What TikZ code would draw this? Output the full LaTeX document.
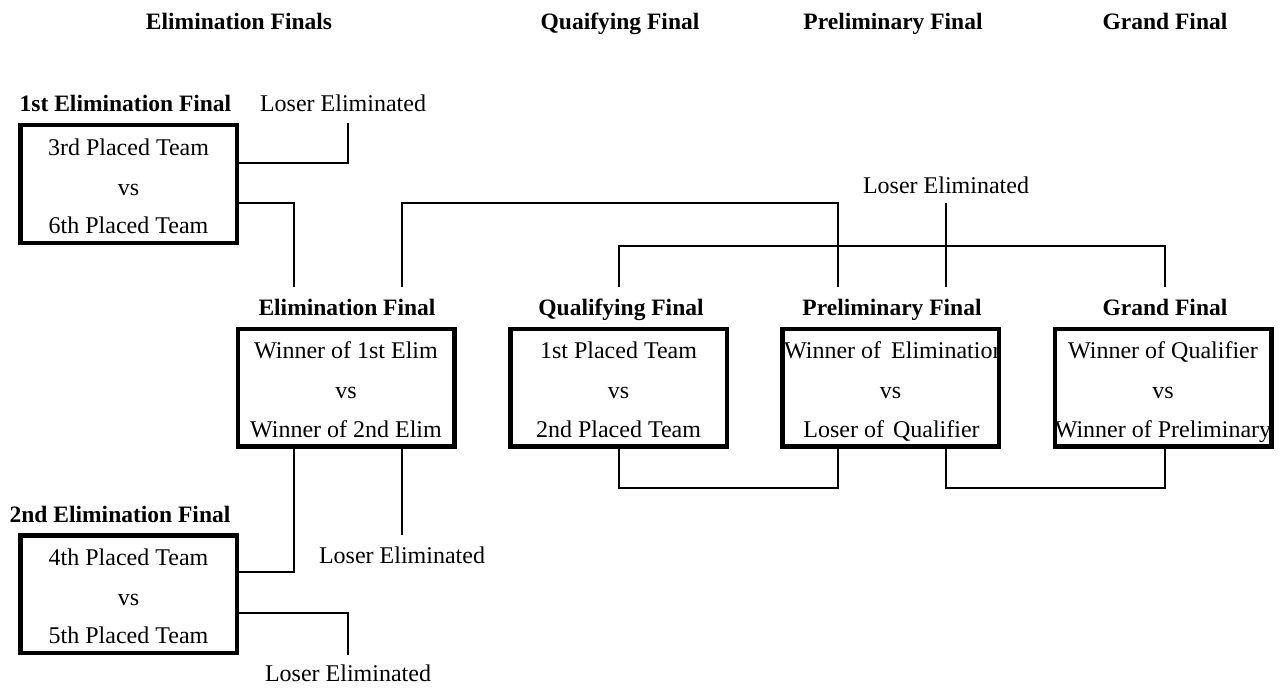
\documentclass[tikz,border=0pt]{standalone}
\usepackage{fontspec}
\setmainfont{Liberation Serif}
\begin{document}
\begin{tikzpicture}[x=1pt,y=-1pt,
  box/.style={draw, line width=4.5pt, minimum width=216.5pt, minimum height=117.5pt, inner sep=0pt, outer sep=0pt},
  conn/.style={line width=2.6pt},
  txt/.style={anchor=base, inner sep=0pt, font=\fontsize{24}{28}\selectfont},
  ttl/.style={anchor=base, inner sep=0pt, font=\fontsize{23.5}{28}\selectfont\bfseries},
]
\useasboundingbox (0,0) rectangle (1282,690);

% headers
\node[ttl] (h1) at (239,30) {Elimination Finals};
\node[ttl] (h2) at (620,30) {Quaifying Final};
\node[ttl] (h3) at (893,30) {Preliminary Final};
\node[ttl] (h4) at (1165,30) {Grand Final};

% boxes
\node[box] (b1) at (128.5,184) {};
\node[box] (b2) at (128.5,594) {};
\node[box] (be) at (346,387.5) {};
\node[box] (bq) at (618.5,387.5) {};
\node[box] (bp) at (890.5,387.5) {};
\node[box] (bg) at (1163,387.5) {};

% titles
\node[ttl] (t1) at (125.5,112) {1st Elimination Final};
\node[ttl] (t2) at (120,522) {2nd Elimination Final};
\node[ttl] (te) at (347,315) {Elimination Final};
\node[ttl] (tq) at (621,315) {Qualifying Final};
\node[ttl] (tp) at (892,315) {Preliminary Final};
\node[ttl] (tg) at (1165,315) {Grand Final};

% box texts
\node[txt] (b1a) at (128.5,155) {3rd Placed Team};
\node[txt] (b1b) at (128.5,195) {vs};
\node[txt] (b1c) at (128.5,233) {6th Placed Team};
\node[txt] (b2a) at (128.5,565) {4th Placed Team};
\node[txt] (b2b) at (128.5,605) {vs};
\node[txt] (b2c) at (128.5,643) {5th Placed Team};
\node[txt] (bea) at (346,358) {Winner of 1st Elim};
\node[txt] (beb) at (346,398) {vs};
\node[txt] (bec) at (346,437) {Winner of 2nd Elim};
\node[txt] (bqa) at (618.5,358) {1st Placed Team};
\node[txt] (bqb) at (618.5,398) {vs};
\node[txt] (bqc) at (618.5,437) {2nd Placed Team};
\begin{scope}
  \clip (bp.north west) rectangle (bp.south east);
  \node[txt, anchor=base west] (bpa) at (784,358) {Winner of\hspace{4pt} Elimination};
\end{scope}
\node[txt] (bpb) at (890.5,398) {vs};
\node[txt] (bpc) at (891.5,437) {Loser of\hspace{3pt} Qualifier};
\node[txt] (bga) at (1163,358) {Winner of Qualifier};
\node[txt] (bgb) at (1163,398) {vs};
\node[txt] (bgc) at (1163,437) {Winner of Preliminary};

% loser labels
\node[txt] (l1) at (343,112) {Loser Eliminated};
\node[txt] (l2) at (946,193) {Loser Eliminated};
\node[txt] (l3) at (402,563) {Loser Eliminated};
\node[txt] (l4) at (348,681) {Loser Eliminated};

% connector ends
\coordinate (l1e) at (348,123);
\coordinate (e1in) at (294,287);
\coordinate (eout) at (402,287);
\coordinate (pin) at (838,287);
\coordinate (qout) at (619,287);
\coordinate (gin) at (1165,287);
\coordinate (l2e) at (946,203);
\coordinate (pout) at (946,287);
\coordinate (l3e) at (402,535);
\coordinate (l4e) at (348,655);

% connectors
\draw[conn] (b1.east |- 0,163) -| (l1e);
\draw[conn] (b1.east |- 0,203) -| (e1in);
\draw[conn] (eout) -- (eout |- 0,203) -| (pin);
\draw[conn] (qout) -- (qout |- 0,246) -| (gin);
\draw[conn] (l2e) -- (pout);
\draw[conn] (be.south -| e1in) |- (b2.east |- 0,572);
\draw[conn] (be.south -| l3e) -- (l3e);
\draw[conn] (b2.east |- 0,613) -| (l4e);
\draw[conn] (bq.south -| qout) -- (qout |- 0,488) -| (bp.south -| pin);
\draw[conn] (bp.south -| pout) -- (pout |- 0,488) -| (bg.south -| gin);
\end{tikzpicture}
\end{document}
